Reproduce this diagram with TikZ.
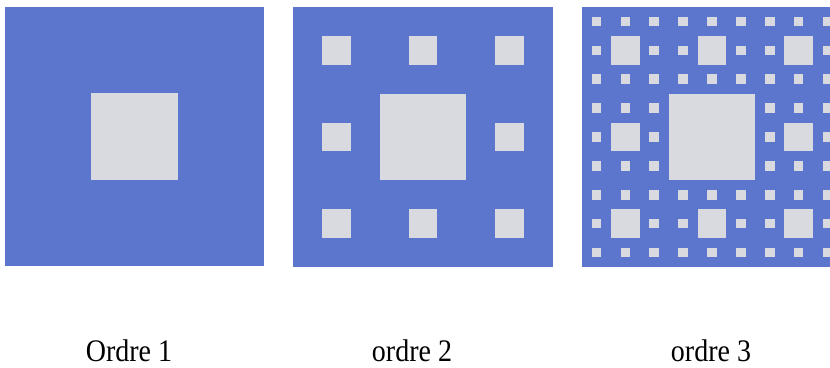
\documentclass[tikz,border=0pt]{standalone}
\usepackage{fontspec}
\setmainfont{Liberation Serif}
\definecolor{carpetblue}{RGB}{92,117,205}
\definecolor{holegray}{RGB}{216,218,224}
\tikzset{
  carpet/.style={fill=carpetblue},
  hole/.style={fill=holegray},
  caption/.style={anchor=base, font=\fontsize{28}{30}\selectfont, inner sep=0pt, yscale=1.12}
}
\begin{document}
\begin{tikzpicture}[x=1pt,y=-1pt]
\useasboundingbox (0,0) rectangle (830,367);
\clip (0,0) rectangle (830,367);
% Order 1
\fill[carpet] (5,7) rectangle ++(259,259);
\fill[hole] (5+259/3,7+259/3) rectangle ++(259/3,259/3);
% Order 2
\fill[carpet] (293,7) rectangle ++(260,260);
\fill[hole] (293+260/3,7+260/3) rectangle ++(260/3,260/3);
\foreach \i in {0,1,2}{\foreach \j in {0,1,2}{
  \ifnum\i\j=11 \else
    \fill[hole] (293+\i*260/3+260/9,7+\j*260/3+260/9) rectangle ++(260/9,260/9);
  \fi}}
% Order 3
\fill[carpet] (582,7) rectangle ++(260,260);
\fill[hole] (582+260/3,7+260/3) rectangle ++(260/3,260/3);
\foreach \i in {0,1,2}{\foreach \j in {0,1,2}{
  \ifnum\i\j=11 \else
    \fill[hole] (582+\i*260/3+260/9,7+\j*260/3+260/9) rectangle ++(260/9,260/9);
    \foreach \k in {0,1,2}{\foreach \l in {0,1,2}{
      \ifnum\k\l=11 \else
        \fill[hole] (582+\i*260/3+\k*260/9+260/27,7+\j*260/3+\l*260/9+260/27) rectangle ++(260/27,260/27);
      \fi}}
  \fi}}
% Captions
\node[caption] (c1) at (129,361) {Ordre 1};
\node[caption] (c2) at (412,361) {ordre 2};
\node[caption] (c3) at (711,361) {ordre 3};
\end{tikzpicture}
\end{document}
